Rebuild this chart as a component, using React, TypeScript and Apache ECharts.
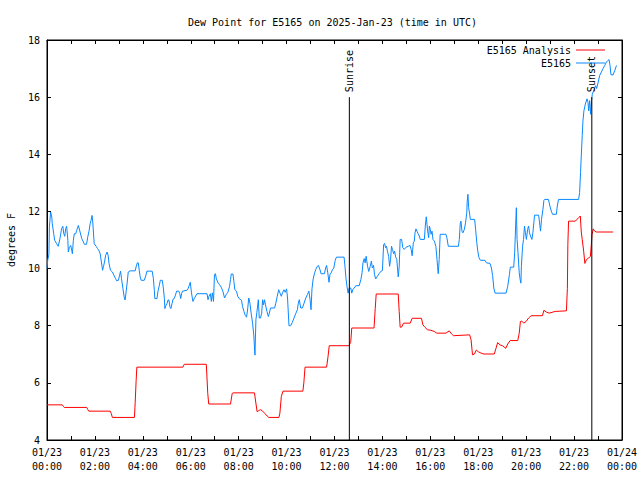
import React, { useEffect, useRef } from 'react';
import * as echarts from 'echarts';

const titleText = 'Dew Point for E5165 on 2025-Jan-23 (time in UTC)';
const yAxisName = 'degrees F';
const obsName = 'E5165';
const anaName = 'E5165 Analysis';

const xTickLabels = [
  '01/23\n00:00', '01/23\n02:00', '01/23\n04:00', '01/23\n06:00', '01/23\n08:00',
  '01/23\n10:00', '01/23\n12:00', '01/23\n14:00', '01/23\n16:00', '01/23\n18:00',
  '01/23\n20:00', '01/23\n22:00', '01/24\n00:00',
];

const sunEvents = [
  { name: 'Sunrise', hour: 12.62 },
  { name: 'Sunset', hour: 22.74 },
];
const sunLineTop = 16;

const obsHours = [
  0.00, 0.03, 0.08, 0.10, 0.15, 0.20, 0.22, 0.28, 0.32, 0.40, 0.47, 0.54, 0.61, 0.66, 0.70, 0.74, 0.78, 0.82, 0.87, 0.89,
  0.93, 0.99, 1.03, 1.06, 1.10, 1.14, 1.20, 1.24, 1.31, 1.38, 1.45, 1.52, 1.56, 1.65, 1.70, 1.76, 1.80, 1.84, 1.88, 1.91,
  1.97, 2.05, 2.11, 2.16, 2.22, 2.27, 2.32, 2.36, 2.40, 2.45, 2.51, 2.55, 2.59, 2.65, 2.73, 2.79, 2.86, 2.91, 2.98, 3.03,
  3.07, 3.11, 3.17, 3.22, 3.26, 3.31, 3.35, 3.39, 3.47, 3.68, 3.72, 3.77, 3.81, 3.85, 3.89, 3.93, 4.06, 4.13, 4.17, 4.39,
  4.44, 4.48, 4.50, 4.59, 4.63, 4.69, 4.73, 4.81, 4.85, 4.90, 4.92, 4.97, 5.01, 5.05, 5.09, 5.13, 5.17, 5.22, 5.26, 5.31,
  5.36, 5.41, 5.50, 5.54, 5.58, 5.62, 5.66, 5.84, 5.89, 5.94, 5.98, 6.03, 6.09, 6.15, 6.26, 6.68, 6.72, 6.76, 6.82, 6.86,
  6.90, 6.95, 6.99, 7.03, 7.07, 7.13, 7.20, 7.27, 7.34, 7.41, 7.48, 7.55, 7.62, 7.66, 7.69, 7.76, 7.80, 7.84, 7.91, 7.96,
  8.03, 8.12, 8.16, 8.22, 8.28, 8.33, 8.38, 8.42, 8.47, 8.52, 8.58, 8.63, 8.68, 8.72, 8.76, 8.82, 8.86, 8.91, 8.96, 9.00,
  9.04, 9.08, 9.12, 9.18, 9.24, 9.28, 9.33, 9.50, 9.55, 9.61, 9.67, 9.72, 9.78, 9.83, 9.89, 9.94, 10.00, 10.04, 10.10, 10.17,
  10.24, 10.31, 10.38, 10.45, 10.49, 10.53, 10.59, 10.66, 10.73, 10.80, 10.87, 10.93, 10.98, 11.02, 11.06, 11.11, 11.17, 11.22, 11.28, 11.33,
  11.39, 11.44, 11.58, 11.63, 11.67, 11.72, 11.77, 11.81, 11.86, 11.92, 11.97, 12.03, 12.08, 12.40, 12.44, 12.48, 12.53, 12.57, 12.61, 12.68,
  12.72, 12.76, 12.82, 12.89, 13.03, 13.10, 13.15, 13.19, 13.24, 13.28, 13.32, 13.38, 13.43, 13.49, 13.54, 13.58, 13.63, 13.67, 13.72, 13.79,
  13.86, 13.93, 14.00, 14.05, 14.09, 14.13, 14.17, 14.21, 14.26, 14.30, 14.34, 14.38, 14.42, 14.47, 14.51, 14.55, 14.60, 14.63, 14.66, 14.70,
  14.74, 14.80, 14.85, 14.91, 14.99, 15.08, 15.15, 15.20, 15.24, 15.29, 15.33, 15.36, 15.40, 15.44, 15.49, 15.54, 15.58, 15.75, 15.79, 15.83,
  15.86, 15.89, 15.93, 15.96, 16.00, 16.03, 16.07, 16.11, 16.17, 16.23, 16.28, 16.30, 16.33, 16.37, 16.41, 16.65, 16.69, 16.75, 17.17, 17.21,
  17.25, 17.28, 17.32, 17.36, 17.42, 17.47, 17.52, 17.54, 17.57, 17.60, 17.64, 17.67, 17.85, 17.89, 17.94, 17.98, 18.03, 18.09, 18.28, 18.34,
  18.49, 18.55, 18.60, 18.65, 18.70, 19.16, 19.23, 19.30, 19.34, 19.48, 19.52, 19.57, 19.59, 19.62, 19.66, 19.71, 19.75, 19.78, 19.80, 19.85,
  19.89, 19.93, 19.97, 20.01, 20.06, 20.10, 20.14, 20.18, 20.24, 20.28, 20.32, 20.35, 20.52, 20.56, 20.60, 20.64, 20.70, 20.74, 20.77, 20.93,
  20.99, 21.05, 21.10, 21.26, 21.30, 21.35, 22.19, 22.23, 22.27, 22.30, 22.34, 22.37, 22.41, 22.47, 22.54, 22.58, 22.61, 22.65, 22.69, 22.73,
  22.76, 22.85, 22.90, 22.94, 23.00, 23.07, 23.14, 23.21, 23.28, 23.35, 23.42, 23.46, 23.50, 23.54, 23.63, 23.70, 23.77,
];

const obsValues = [
  10.0, 10.3, 10.5, 11.45, 11.98, 11.8, 11.57, 11.22, 10.99, 10.87, 10.78, 11.05, 11.4, 11.48, 11.22, 11.13, 11.4, 11.48, 10.99, 10.58,
  10.73, 10.81, 10.64, 10.52, 10.99, 11.22, 11.22, 11.34, 11.51, 11.28, 11.05, 10.93, 10.85, 10.85, 11.10, 11.34, 11.57, 11.69, 11.86, 11.63,
  10.87, 10.78, 10.70, 10.64, 10.52, 10.23, 9.94, 10.08, 10.23, 10.47, 10.58, 10.47, 10.17, 9.94, 9.88, 9.77, 9.65, 9.57, 9.59, 9.77,
  9.91, 9.65, 9.30, 9.01, 8.90, 9.24, 9.53, 9.88, 9.92, 9.92, 10.06, 10.20, 10.20, 9.94, 9.71, 9.59, 9.59, 9.77, 9.91, 9.91,
  9.65, 9.24, 8.95, 8.95, 9.19, 9.42, 9.59, 9.59, 9.36, 8.95, 8.60, 8.72, 8.78, 8.90, 8.90, 8.66, 8.60, 8.78, 8.93, 8.95,
  9.07, 9.21, 9.21, 9.13, 8.95, 9.13, 9.21, 9.24, 9.30, 9.42, 9.52, 9.15, 8.85, 8.96, 9.12, 9.12, 8.91, 9.03, 9.12, 8.85,
  9.15, 8.85, 9.79, 9.82, 9.64, 9.52, 9.44, 9.35, 9.21, 8.97, 9.09, 9.17, 9.38, 9.62, 9.81, 9.81, 9.55, 9.26, 9.21, 9.03,
  8.94, 8.89, 8.68, 8.50, 8.35, 8.30, 8.62, 8.97, 8.79, 8.44, 8.09, 7.68, 6.97, 8.21, 8.47, 8.91, 8.27, 8.27, 8.44, 8.91,
  8.73, 8.91, 8.73, 8.50, 8.32, 8.44, 8.62, 8.62, 8.79, 9.03, 9.26, 9.15, 9.03, 9.15, 9.26, 9.17, 9.29, 8.97, 8.00, 8.00,
  8.12, 8.27, 8.42, 8.56, 8.79, 8.91, 8.62, 8.62, 8.79, 8.97, 9.09, 9.21, 8.91, 8.56, 9.29, 9.64, 9.85, 9.97, 10.08, 10.11,
  9.97, 9.82, 9.82, 10.02, 10.11, 9.85, 9.52, 9.79, 9.85, 9.97, 10.02, 10.29, 10.40, 10.40, 10.05, 9.65, 9.32, 9.14, 9.32, 9.32,
  9.14, 9.26, 9.32, 9.40, 9.40, 9.61, 9.85, 10.20, 10.35, 10.20, 10.43, 10.08, 9.90, 10.08, 10.26, 10.02, 10.11, 9.79, 9.64, 9.73,
  9.82, 9.90, 9.93, 10.84, 10.88, 10.73, 10.78, 10.61, 10.43, 10.08, 10.32, 10.78, 10.67, 10.52, 10.61, 10.41, 10.32, 10.02, 9.71, 10.06,
  11.02, 11.02, 10.73, 10.67, 10.75, 10.78, 10.81, 10.67, 10.45, 10.90, 10.96, 11.25, 11.39, 11.31, 11.22, 11.14, 11.02, 11.02, 11.49, 11.81,
  11.55, 11.31, 11.08, 11.49, 11.37, 11.20, 11.31, 11.02, 10.96, 10.78, 10.32, 10.08, 9.82, 10.32, 11.20, 11.20, 11.08, 10.78, 10.78, 11.02,
  11.60, 11.66, 11.31, 11.25, 11.37, 11.60, 11.95, 12.36, 12.60, 12.13, 11.90, 11.72, 11.72, 11.37, 10.90, 10.61, 10.38, 10.29, 10.29, 10.20,
  10.18, 10.02, 9.75, 9.32, 9.14, 9.14, 9.38, 9.79, 10.05, 10.05, 10.55, 11.72, 12.13, 11.02, 10.55, 9.85, 9.61, 9.49, 10.08, 10.78,
  11.02, 11.49, 11.25, 11.02, 11.37, 11.49, 11.25, 11.14, 11.02, 11.25, 11.60, 11.87, 11.87, 11.60, 11.31, 11.72, 12.07, 12.39, 12.42, 12.42,
  12.19, 12.01, 11.90, 11.90, 12.19, 12.42, 12.42, 12.66, 13.36, 13.94, 14.65, 15.17, 15.52, 15.76, 15.94, 15.82, 15.52, 15.88, 15.40, 15.88,
  16.10, 16.30, 16.40, 16.30, 16.50, 16.76, 16.88, 17.00, 17.11, 17.23, 17.29, 17.31, 17.11, 16.78, 16.78, 16.94, 17.11,
];

const anaHours = [
  0.00, 0.64, 0.68, 0.72, 1.66, 1.70, 1.74, 2.64, 2.68, 2.73, 3.65, 3.68, 3.72, 3.75, 5.67, 5.73, 6.65, 6.71, 6.75, 7.66,
  7.73, 7.77, 8.66, 8.70, 8.77, 8.84, 8.91, 9.00, 9.08, 9.19, 9.26, 9.68, 9.72, 9.78, 9.85, 10.68, 10.72, 10.77, 11.67, 11.73,
  11.78, 12.61, 12.68, 12.72, 13.65, 13.70, 13.74, 14.66, 14.70, 14.74, 14.80, 14.88, 15.16, 15.24, 15.63, 15.69, 15.77, 15.88, 16.02, 16.16,
  16.27, 16.65, 16.79, 16.89, 16.97, 17.64, 17.70, 17.76, 17.84, 17.92, 18.00, 18.12, 18.23, 18.67, 18.74, 18.81, 18.90, 19.01, 19.15, 19.23,
  19.33, 19.65, 19.71, 19.76, 19.82, 19.90, 20.00, 20.10, 20.21, 20.68, 20.74, 20.84, 20.96, 21.21, 21.68, 21.72, 21.74, 21.77, 22.05, 22.19,
  22.26, 22.30, 22.34, 22.40, 22.45, 22.52, 22.61, 22.68, 22.72, 22.75, 22.80, 22.86, 22.93, 23.63,
];

const anaValues = [
  5.23, 5.23, 5.18, 5.14, 5.14, 5.07, 5.01, 5.01, 4.93, 4.79, 4.79, 5.30, 6.08, 6.55, 6.55, 6.65, 6.65, 5.63, 5.26, 5.26,
  5.63, 5.65, 5.65, 5.40, 4.99, 5.03, 5.06, 5.01, 4.94, 4.84, 4.79, 4.79, 4.94, 5.52, 5.71, 5.71, 6.00, 6.55, 6.55, 6.92,
  7.30, 7.30, 7.45, 7.92, 7.92, 8.60, 9.11, 9.11, 8.50, 7.95, 7.95, 8.09, 8.09, 8.26, 8.26, 8.03, 7.95, 7.86, 7.84, 7.80,
  7.74, 7.74, 7.82, 7.71, 7.65, 7.68, 7.51, 6.98, 7.01, 7.15, 7.09, 7.04, 7.01, 7.01, 7.21, 7.41, 7.33, 7.30, 7.21, 7.36,
  7.48, 7.48, 7.74, 8.15, 8.16, 8.09, 8.15, 8.27, 8.35, 8.35, 8.54, 8.48, 8.44, 8.50, 8.52, 9.31, 10.84, 11.66, 11.66, 11.78,
  11.84, 11.28, 11.02, 10.61, 10.18, 10.32, 10.37, 10.43, 10.84, 11.19, 11.39, 11.31, 11.28, 11.28,
];

const FONT = '"DejaVu Sans Mono", monospace';
const BLACK = '#000000';
const RED = '#ff0000';
const BLUE = '#0a88ff';

export default function App() {
  const ref = useRef<HTMLDivElement>(null);

  useEffect(() => {
    const chart = echarts.init(ref.current as HTMLDivElement, null, { renderer: 'svg' });
    const pairs = (hs: number[], vs: number[]) => hs.map((h, i) => [h, vs[i]]);

    const sunSeries = sunEvents.map((e) => ({
      type: 'line',
      name: e.name,
      data: [
        [e.hour, 4],
        {
          value: [e.hour, sunLineTop],
          label: {
            show: true,
            formatter: e.name,
            position: 'top',
            rotate: 90,
            align: 'left',
            verticalAlign: 'middle',
            distance: 5,
            fontFamily: FONT,
            fontSize: 10,
            color: BLACK,
          },
        },
      ],
      symbol: 'circle',
      symbolSize: 0,
      showSymbol: true,
      lineStyle: { color: BLACK, width: 1 },
      itemStyle: { color: BLACK },
      silent: true,
      z: 3,
    }));

    const axisLine = { show: true, onZero: false, lineStyle: { color: BLACK, width: 1 } };
    const axisTick = { show: true, inside: true, length: 4, lineStyle: { color: BLACK } };
    const legendText = { fontFamily: FONT, fontSize: 10, color: BLACK };

    chart.setOption({
      animation: false,
      backgroundColor: '#ffffff',
      title: {
        text: titleText,
        left: 183,
        top: 12,
        textStyle: { fontFamily: FONT, fontSize: 10, fontWeight: 'normal', color: BLACK },
      },
      legend: [
        {
          data: [anaName],
          orient: 'vertical',
          right: 30,
          top: 40,
          align: 'right',
          icon: 'rect',
          itemWidth: 29,
          itemHeight: 1,
          selectedMode: false,
          textStyle: legendText,
        },
        {
          data: [obsName],
          orient: 'vertical',
          right: 30,
          top: 53,
          align: 'right',
          icon: 'rect',
          itemWidth: 29,
          itemHeight: 1,
          selectedMode: false,
          textStyle: legendText,
        },
      ],
      grid: {
        left: 47,
        right: 18,
        top: 40,
        bottom: 40,
        show: true,
        borderColor: BLACK,
        borderWidth: 1,
        backgroundColor: 'transparent',
        containLabel: false,
        outerBoundsMode: 'none',
      },
      xAxis: [
        {
          type: 'value',
          min: 0,
          max: 24,
          interval: 1,
          position: 'bottom',
          axisLine,
          axisTick,
          splitLine: { show: false },
          axisLabel: {
            formatter: (v: number) => (v % 2 === 0 ? xTickLabels[v / 2] : ''),
            fontFamily: FONT,
            fontSize: 10,
            color: BLACK,
            margin: 5,
            lineHeight: 14,
          },
        },
        {
          type: 'value',
          min: 0,
          max: 24,
          interval: 1,
          position: 'top',
          axisLine,
          axisTick,
          splitLine: { show: false },
          axisLabel: { show: false },
        },
      ],
      yAxis: [
        {
          type: 'value',
          min: 4,
          max: 18,
          interval: 2,
          position: 'left',
          name: yAxisName,
          nameLocation: 'middle',
          nameGap: 31,
          nameTextStyle: { fontFamily: FONT, fontSize: 10, color: BLACK },
          axisLine,
          axisTick,
          splitLine: { show: false },
          axisLabel: { fontFamily: FONT, fontSize: 10, color: BLACK, margin: 7 },
        },
        {
          type: 'value',
          min: 4,
          max: 18,
          interval: 2,
          position: 'right',
          axisLine,
          axisTick,
          splitLine: { show: false },
          axisLabel: { show: false },
        },
      ],
      series: [
        {
          type: 'line',
          name: anaName,
          data: pairs(anaHours, anaValues),
          showSymbol: false,
          symbol: 'none',
          lineStyle: { color: RED, width: 1 },
          itemStyle: { color: RED },
          z: 2,
        },
        {
          type: 'line',
          name: obsName,
          data: pairs(obsHours, obsValues),
          showSymbol: false,
          symbol: 'none',
          lineStyle: { color: BLUE, width: 1 },
          itemStyle: { color: BLUE },
          z: 2,
        },
        ...sunSeries,
      ],
    });

    return () => chart.dispose();
  }, []);

  return (
    <div
      ref={ref}
      style={{ position: 'fixed', left: 0, top: 0, width: 640, height: 480, background: '#fff' }}
    />
  );
}
